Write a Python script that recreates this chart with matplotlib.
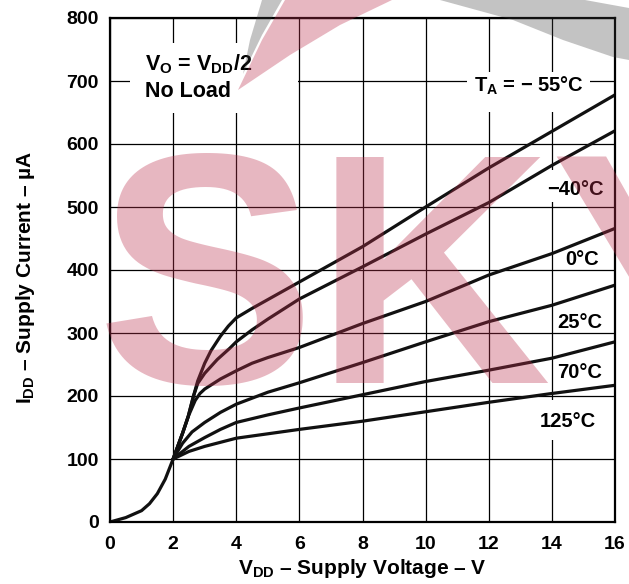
import matplotlib
matplotlib.use("Agg")
from matplotlib import pyplot as plt
from matplotlib.patches import Polygon, Rectangle

plt.rcParams['font.family'] = ['Liberation Sans', 'DejaVu Sans']
plt.rcParams['font.weight'] = 'bold'
plt.rcParams['mathtext.fontset'] = 'custom'
plt.rcParams['mathtext.rm'] = 'Liberation Sans:bold'
plt.rcParams['mathtext.it'] = 'Liberation Sans:bold'
plt.rcParams['mathtext.bf'] = 'Liberation Sans:bold'

# common part of all curves, below 2 V
v_low = [0, 0.5, 1.0, 1.25, 1.5, 1.75, 2.0]
i_low = [0, 7, 18, 29, 45, 68, 100]

# curves above 2 V, one per ambient temperature
v_m55 = [2, 2.3, 2.48, 2.64, 2.78, 3.0, 3.2, 3.5, 3.75, 4, 4.5, 5, 6, 8, 10, 12, 14, 16]
i_m55 = [100, 141, 168, 199, 224, 252, 272, 295, 311, 324, 339, 353, 381, 437, 500, 562, 620, 678]

v_m40 = [2, 2.3, 2.48, 2.64, 2.78, 3.0, 3.4, 3.8, 4, 4.5, 5, 6, 8, 10, 12, 14, 16]
i_m40 = [100, 141, 168, 199, 220, 236, 258, 276, 286, 305, 322, 354, 405, 457, 507, 566, 621]

v_0 = [2, 2.3, 2.5, 2.7, 2.85, 3.0, 3.5, 4, 4.5, 5, 6, 8, 10, 12, 14, 16]
i_0 = [100, 141, 170, 193, 204, 211, 227, 240, 252, 261, 277, 315, 350, 392, 426, 466]

v_25 = [2, 2.3, 2.6, 3.0, 3.5, 4, 5, 6, 8, 10, 12, 14, 16]
i_25 = [100, 125, 143, 158, 174, 187, 206, 221, 253, 286, 318, 344, 376]

v_70 = [2, 2.5, 3.0, 3.5, 4, 5, 6, 8, 10, 12, 14, 16]
i_70 = [100, 120, 134, 147, 158, 170, 181, 202, 223, 241, 260, 286]

v_125 = [2, 2.5, 3.0, 4, 5, 6, 8, 10, 12, 14, 16]
i_125 = [100, 112, 120, 133, 140, 147, 160, 175, 190, 204, 217]

curves = [(v_m55, i_m55), (v_m40, i_m40), (v_0, i_0),
          (v_25, i_25), (v_70, i_70), (v_125, i_125)]

x_ticks = [0, 2, 4, 6, 8, 10, 12, 14, 16]
y_ticks = [0, 100, 200, 300, 400, 500, 600, 700, 800]

W, H = 629, 584
fig = plt.figure(figsize=(W / 100, H / 100), dpi=100)
ax = fig.add_axes([110 / W, 1 - 522 / H, 505 / W, 504 / H])

ax.set_xlim(0, 16)
ax.set_ylim(0, 800)
ax.set_xticks(x_ticks)
ax.set_yticks(y_ticks)
ax.tick_params(length=0, labelsize=14, pad=8)
ax.tick_params(axis='x', pad=10)
for lab in ax.get_xticklabels() + ax.get_yticklabels():
    lab.set_fontweight('bold')
ax.grid(True, color='black', linewidth=0.9, zorder=0.5)
ax.set_axisbelow(True)
for sp in ax.spines.values():
    sp.set_linewidth(1.6)
    sp.set_zorder(5)

# white boxes that cut the grid behind the notes
for x0, y0, w, h in [(0.63, 649, 5.33, 111), (11.3, 651, 3.9, 63),
                     (13.5, 508, 2.3, 51), (13.4, 130, 2.4, 64)]:
    ax.add_patch(Rectangle((x0, y0), w, h, facecolor='white',
                           edgecolor='none', zorder=1))

ax.plot(v_low, i_low, color='#111111', lw=2.3, solid_joinstyle='round',
        solid_capstyle='round', zorder=3)
for v, i in curves:
    ax.plot(v, i, color='#111111', lw=2.3, solid_joinstyle='round',
            solid_capstyle='round', zorder=3)

ax.text(1.1, 726, r'V$_{\rm O}$ = V$_{\rm DD}$/2', fontsize=15.5,
        fontweight='bold', va='center', zorder=4)
ax.text(1.1, 684, 'No Load', fontsize=15.5, fontweight='bold',
        va='center', zorder=4)

temp_labels = [(r'T$_{\rm A}$ = − 55°C', 15.0, 692), ('−40°C', 15.65, 527),
               ('0°C', 15.5, 416), ('25°C', 15.6, 316), ('70°C', 15.6, 237),
               ('125°C', 15.4, 159)]
for txt, x, y in temp_labels:
    ax.text(x, y, txt, fontsize=14.5, fontweight='bold',
            ha='right', va='center', zorder=4)

fig.text(362 / W, 1 - 569 / H, r'V$_{\rm DD}$ – Supply Voltage – V',
         fontsize=15, fontweight='bold', ha='center', va='center')
fig.text(26 / W, 1 - 277 / H, r'I$_{\rm DD}$ – Supply Current – µA',
         fontsize=15, fontweight='bold', ha='center', va='center',
         rotation=90)

# watermark, laid over everything like a multiply stamp
pink = '#BD314E'
grey = '#3a3a3a'


def px(pts):
    return [(x / W, 1 - y / H) for x, y in pts]


fig.text(97 / W, 1 - 383 / H, 'SKY', fontsize=236, fontweight='bold',
         color=pink, alpha=0.35, ha='left', va='baseline', zorder=20)
fig.add_artist(Polygon(px([(238, 90), (262, 40), (285, 0), (392, 0),
                           (340, 25), (290, 55)]),
                       closed=True, facecolor=pink, edgecolor='none',
                       alpha=0.35, transform=fig.transFigure, zorder=20))
fig.add_artist(Polygon(px([(243, 74), (250, 40), (262, 0), (282, 0),
                           (262, 35)]),
                       closed=True, facecolor=grey, edgecolor='none',
                       alpha=0.3, transform=fig.transFigure, zorder=21))
fig.add_artist(Polygon(px([(440, 0), (585, 0), (629, 8), (629, 60),
                           (613, 57), (563, 40), (513, 20)]),
                       closed=True, facecolor=grey, edgecolor='none',
                       alpha=0.3, transform=fig.transFigure, zorder=21))

fig.savefig('out.png', dpi=100, facecolor='white')
